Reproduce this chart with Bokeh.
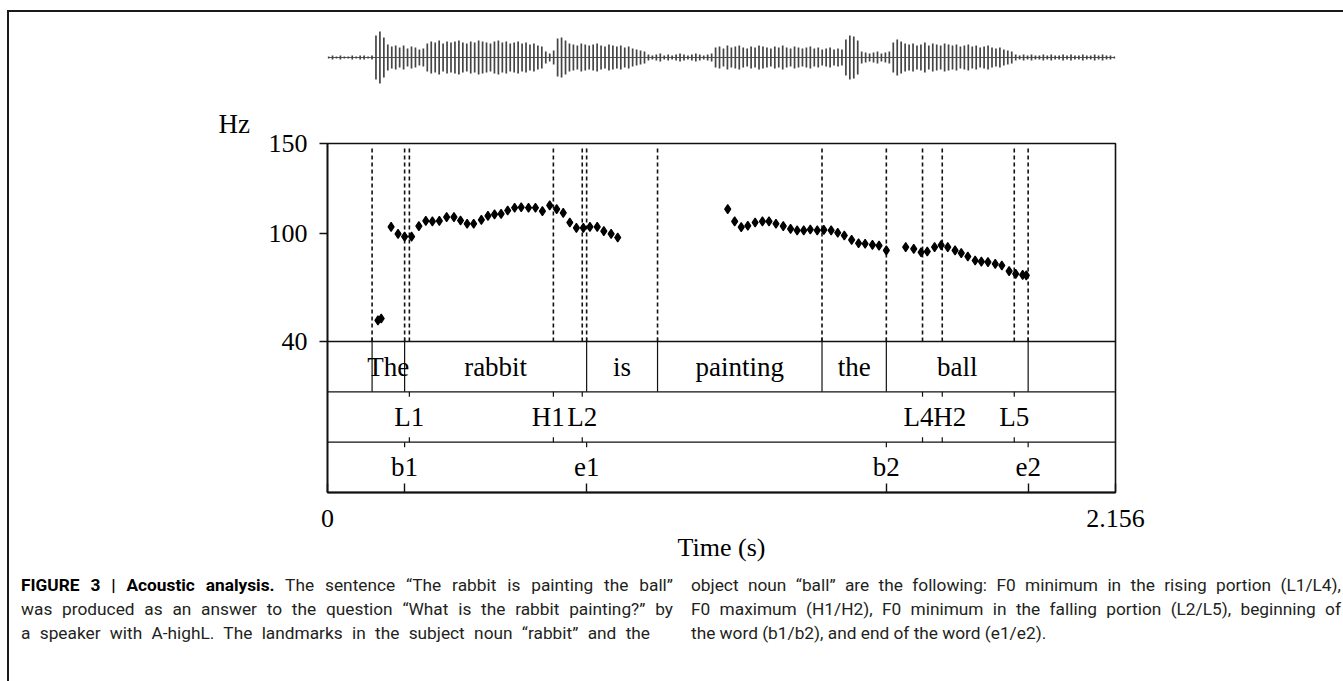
import numpy as np
from bokeh.plotting import figure
from bokeh.models import Range1d, LinearAxis, FixedTicker, ColumnDataSource, Div, Title
from bokeh.layouts import column
from bokeh.embed import file_html
from bokeh.resources import INLINE
from bokeh.core.properties import value

# ---------------- data ----------------
hz_ticks = [40, 100, 150]
time_start, time_end = 0.0, 2.156

# F0 contour, subject part ("The rabbit")
f0_t1 = [0.138, 0.147, 0.174, 0.193, 0.211, 0.230, 0.250, 0.269, 0.287, 0.306,
         0.326, 0.346, 0.364, 0.382, 0.400, 0.421, 0.439, 0.457, 0.475, 0.493,
         0.512, 0.530, 0.550, 0.569, 0.588, 0.608, 0.627, 0.645, 0.663, 0.681,
         0.700, 0.718, 0.738, 0.756, 0.776, 0.794]
f0_v1 = [51.7, 52.8, 103.7, 99.8, 98.3, 98.3, 104.1, 107.0, 106.7, 107.0,
         109.1, 109.1, 107.2, 105.4, 105.4, 107.6, 109.8, 110.6, 110.9, 112.8,
         114.3, 114.6, 114.3, 114.3, 112.4, 115.6, 113.5, 111.5, 106.1, 103.1,
         103.1, 103.7, 103.7, 101.3, 99.8, 97.8]
# F0 contour, object part ("painting the ball")
f0_t2 = [1.095, 1.114, 1.132, 1.150, 1.170, 1.190, 1.208, 1.227, 1.247, 1.267,
         1.285, 1.303, 1.321, 1.340, 1.358, 1.378, 1.396, 1.414, 1.434, 1.453,
         1.471, 1.491, 1.509, 1.529, 1.582, 1.604, 1.624, 1.641, 1.661, 1.679,
         1.697, 1.717, 1.734, 1.752, 1.772, 1.789, 1.807, 1.827, 1.845, 1.865,
         1.883, 1.902, 1.912]
f0_v2 = [113.5, 106.7, 103.5, 104.3, 106.1, 106.7, 106.7, 105.4, 104.1, 102.6,
         101.7, 101.7, 102.2, 101.7, 102.0, 101.7, 100.4, 98.9, 96.5, 94.6,
         94.3, 93.7, 93.3, 90.6, 92.4, 91.5, 89.6, 90.0, 92.4, 93.5,
         92.4, 90.6, 89.1, 87.2, 85.0, 84.4, 84.1, 83.1, 82.2, 79.1,
         77.6, 77.0, 76.7]

words = ["The", "rabbit", "is", "painting", "the", "ball"]
word_bounds = [0.122, 0.211, 0.709, 0.903, 1.353, 1.529, 1.917]

tones = ["L1", "H1", "L2", "L4", "H2", "L5"]
tone_times = [0.224, 0.618, 0.697, 1.628, 1.682, 1.879]

idx_labels = ["b1", "e1", "b2", "e2"]
idx_times = [0.211, 0.709, 1.529, 1.917]

# waveform envelope (relative amplitude), read left to right
wave_amp = [1, 2, 1, 2, 1, 1, 2, 1, 2, 2, 1, 2,
            22, 26, 20,
            13, 11, 12, 10, 12, 9, 11, 10, 8, 9,
            14, 16, 15, 17, 14, 16, 15, 16, 17, 15, 14, 16, 15, 17, 16, 15, 14, 16, 17, 15,
            16, 14, 15, 16, 14, 15, 13, 14, 12, 11,
            6, 4, 7,
            19, 20, 17,
            14, 13, 12, 14, 13, 12, 13, 14, 12, 11, 13, 12, 11, 12, 10, 11, 9, 8, 7, 6,
            3, 2, 3, 4, 2, 3, 2, 3, 4, 3, 2, 3, 4, 3, 2, 3, 4,
            10, 11, 9, 12, 10, 11, 12, 10, 9, 11, 10, 12, 11, 10, 9, 11, 10, 12, 10, 9,
            11, 10, 9, 10, 11, 9, 10, 8, 9, 10, 8, 9, 8,
            18, 22, 21, 17,
            6, 5, 4, 5, 6, 4, 5, 6,
            15, 18, 16, 14,
            13, 14, 12, 13, 15, 12, 14, 13, 12, 14, 13, 12, 13, 11, 12, 13, 11, 12, 10, 11,
            12, 10, 9, 10, 8, 7, 6,
            3, 2, 3, 2, 3, 2, 2, 3, 2, 3, 2, 2, 3, 2, 3, 2, 2, 3, 2, 2, 3, 2, 3, 2, 2, 1]
wave_t0, wave_t1 = 0.003, 2.194

# ---------------- styling / layout ----------------
SERIF = "Liberation Serif"
INK = "#111111"
FIG_W = 1334
FRAME_L, FRAME_W = 318, 788
FRAME_T, FRAME_H = 50, 349
PX_PER_HZ = 1.8
TIER_PX = 151 / 3.0
MAIN_H = 50 + 349 + 82
WAVE_H = 81

# waveform figure (its frame is aligned with the main panel by the column layout)
wave = figure(width=FIG_W, height=WAVE_H,
              x_range=Range1d(wave_t0 - 0.003, wave_t1 + 0.003),
              y_range=Range1d(-36, 45),
              x_axis_type=None, y_axis_type=None, min_border=0,
              min_border_left=FRAME_L, min_border_right=FIG_W - FRAME_L - FRAME_W,
              output_backend="svg", toolbar_location=None)
wave.grid.visible = False
wave.outline_line_color = None
wt = np.linspace(wave_t0, wave_t1, len(wave_amp))
wa = np.array(wave_amp, dtype=float)
wave.line(wt, np.zeros_like(wt), line_color="#555555", line_width=1.2)
wave.segment(x0=wt, x1=wt, y0=-wa, y1=wa, line_color="#444444", line_width=1.7)

# main panel
y_lo = hz_ticks[-1] - FRAME_H / PX_PER_HZ
p = figure(width=FIG_W, height=MAIN_H,
           x_range=Range1d(time_start, time_end),
           y_range=Range1d(y_lo, hz_ticks[-1]),
           x_axis_type=None, y_axis_type=None,
           min_border_left=FRAME_L, min_border_right=FIG_W - FRAME_L - FRAME_W,
           min_border_top=FRAME_T, min_border_bottom=MAIN_H - FRAME_T - FRAME_H,
           output_backend="svg", toolbar_location=None)
p.grid.visible = False
p.outline_line_color = INK
p.outline_line_width = 1.6
p.extra_y_ranges = {"tier": Range1d(0, FRAME_H / TIER_PX)}

# unit label "Hz" above the y axis
p.add_layout(Title(text="Hz", align="left", offset=-109, standoff=9,
                   text_font=SERIF, text_font_size="27px", text_font_style="normal",
                   text_color="#000000"), "above")

yax = LinearAxis(ticker=FixedTicker(ticks=hz_ticks))
yax.major_tick_out = 8
yax.major_tick_in = 0
yax.minor_tick_line_color = None
yax.axis_line_width = 1.6
yax.axis_line_color = INK
yax.major_tick_line_color = INK
yax.major_tick_line_width = 1.6
yax.major_label_standoff = 12
yax.major_label_text_font = SERIF
yax.major_label_text_font_size = "26px"
yax.major_label_text_color = "#000000"
p.add_layout(yax, "left")

xt = [time_start] + idx_times + [time_end]
xax = LinearAxis(ticker=FixedTicker(ticks=xt))
xax.major_label_overrides = {time_start: "0", time_end: "2.156",
                             **{t: "" for t in idx_times}}
xax.major_tick_in = 9
xax.major_tick_out = 0
xax.minor_tick_line_color = None
xax.axis_line_width = 2
xax.axis_line_color = INK
xax.major_tick_line_color = INK
xax.major_tick_line_width = 1.4
xax.major_label_standoff = 17
xax.major_label_text_font = SERIF
xax.major_label_text_font_size = "26px"
xax.major_label_text_color = "#000000"
xax.axis_label = "Time (s)"
xax.axis_label_standoff = 3
xax.axis_label_text_font = SERIF
xax.axis_label_text_font_size = "26px"
xax.axis_label_text_font_style = "normal"
xax.axis_label_text_color = "#000000"
p.add_layout(xax, "below")

# dashed landmark lines in the F0 panel
landmarks = sorted(set(word_bounds) | set(tone_times))
p.segment(x0=landmarks, x1=landmarks, y0=[hz_ticks[0]] * len(landmarks),
          y1=[hz_ticks[-1] - 2.5] * len(landmarks),
          line_color=INK, line_width=1.6, line_dash="4 3")

# F0 points
p.scatter(f0_t1, f0_v1, marker="diamond", size=9, color="#000000", line_width=1.2)
p.scatter(f0_t2, f0_v2, marker="diamond", size=9, color="#000000", line_width=1.2)

# horizontal separators: bottom of F0 panel and tier rows
p.segment(x0=[time_start], x1=[time_end], y0=[hz_ticks[0]], y1=[hz_ticks[0]],
          line_color=INK, line_width=1.6)
p.segment(x0=[time_start, time_start], x1=[time_end, time_end], y0=[1, 2], y1=[1, 2],
          line_color=INK, line_width=1.4, y_range_name="tier")

# word tier
nb = len(word_bounds)
p.segment(x0=word_bounds, x1=word_bounds, y0=[2] * nb, y1=[3.08] * nb,
          line_color=INK, line_width=1.2, y_range_name="tier")
word_mid = [(a + b) / 2 for a, b in zip(word_bounds[:-1], word_bounds[1:])]
p.text(x=word_mid, y=[2.5] * len(words), text=words, y_range_name="tier",
       text_font=value(SERIF), text_font_size="27px", text_align="center",
       text_baseline="middle", text_color="#000000")

# tone tier
nt = len(tone_times)
p.segment(x0=tone_times + tone_times, x1=tone_times + tone_times,
          y0=[1.0] * nt + [1.9] * nt, y1=[1.1] * nt + [2.0] * nt,
          line_color=INK, line_width=1.2, y_range_name="tier")
tone_src = ColumnDataSource(dict(
    x=tone_times, y=[1.5] * nt, text=tones,
    align=["center", "center", "center", "right", "left", "center"],
    dx=[0, -5, 0, 11, -9, 0]))
p.text(x="x", y="y", text="text", source=tone_src, y_range_name="tier",
       text_font=value(SERIF), text_font_size="27px", text_align="align",
       x_offset="dx", text_baseline="middle", text_color="#000000")

# index tier
ni = len(idx_times)
p.segment(x0=idx_times, x1=idx_times, y0=[0.9] * ni, y1=[1.0] * ni,
          line_color=INK, line_width=1.2, y_range_name="tier")
p.text(x=idx_times, y=[0.5] * ni, text=idx_labels, y_range_name="tier",
       text_font=value(SERIF), text_font_size="27px", text_align="center",
       text_baseline="middle", text_color="#000000")

# caption
line_css = "white-space:nowrap;"
just = line_css + "text-align:justify;text-align-last:justify;"
col1 = [
    (just, "<b style='color:#000'>FIGURE 3 | Acoustic analysis.</b> The sentence \u201cThe rabbit is painting the ball\u201d"),
    (just, "was produced as an answer to the question \u201cWhat is the rabbit painting?\u201d by"),
    (just + "width:629px;", "a speaker with A-highL. The landmarks in the subject noun \u201crabbit\u201d and the"),
]
col2 = [
    (just, "object noun \u201cball\u201d are the following: F0 minimum in the rising portion (L1/L4),"),
    (just, "F0 maximum (H1/H2), F0 minimum in the falling portion (L2/L5), beginning of"),
    (line_css, "the word (b1/b2), and end of the word (e1/e2)."),
]
def block(lines, w, ml):
    inner = "".join(f"<div style='{s}'>{t}</div>" for s, t in lines)
    return f"<div style='width:{w}px;margin-left:{ml}px;'>{inner}</div>"

cap_html = ("<div style=\"display:flex;margin-top:-12px;"
            "font-family:Roboto,'Liberation Sans',sans-serif;"
            "font-size:17.3px;line-height:24px;color:#231f20;\">"
            + block(col1, 652, 7) + block(col2, 650, 18) + "</div>")
caption = Div(text=cap_html, width=FIG_W, height=681 - 12 - WAVE_H - MAIN_H)

layout = column(wave, p, caption, margin=(10, 0, 0, 7),
                styles={"border-top": "2px solid #1a1a1a",
                        "border-left": "2px solid #1a1a1a"})

open("out.html", "w").write(file_html(layout, INLINE))
